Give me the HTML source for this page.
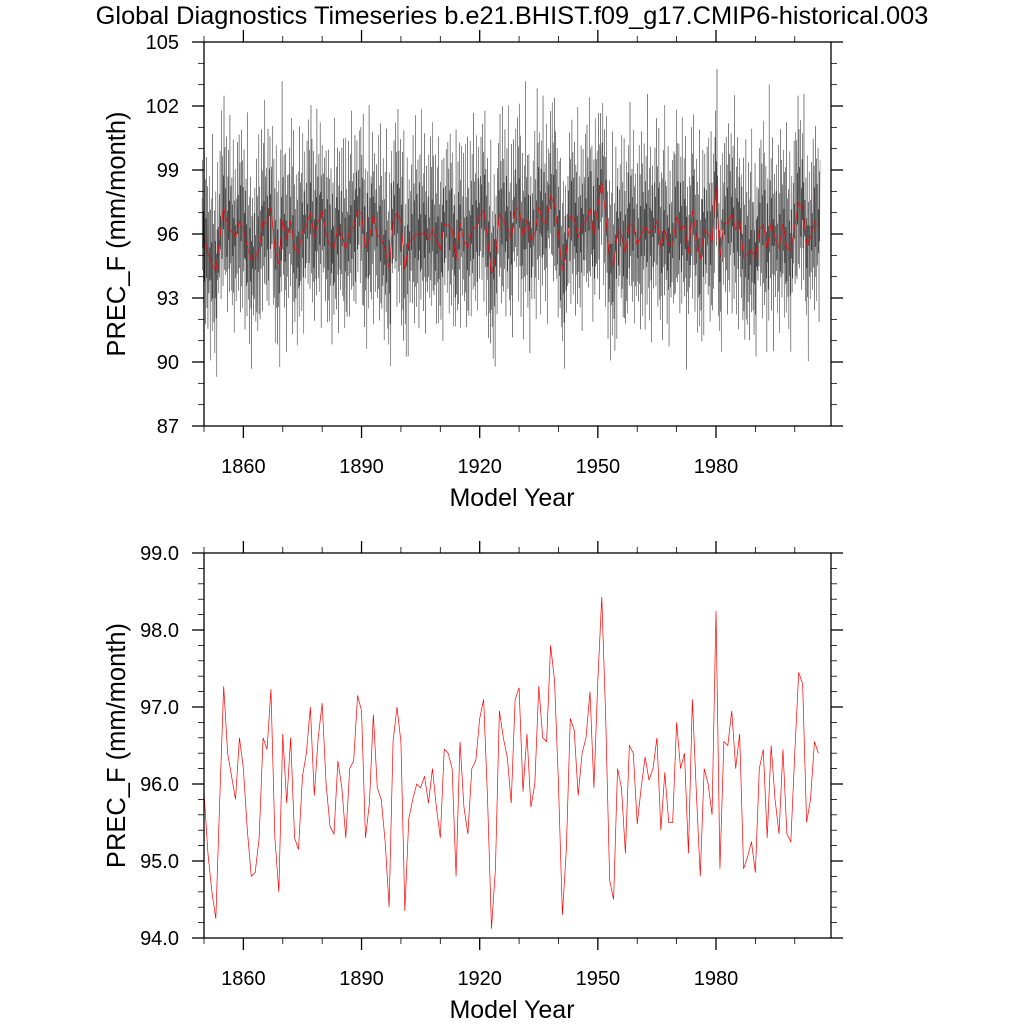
<!DOCTYPE html>
<html><head><meta charset="utf-8"><style>
html,body{margin:0;padding:0;background:#fff}
svg{display:block;font-family:"Liberation Sans",sans-serif}
</style></head><body>
<svg id="chart" width="1024" height="1024" viewBox="0 0 1024 1024" xmlns="http://www.w3.org/2000/svg">
<text x="512" y="24" font-size="25.4" text-anchor="middle">Global Diagnostics Timeseries b.e21.BHIST.f09_g17.CMIP6-historical.003</text>
<g id="top"></g>
<g id="bot"></g>
</svg>
<script>
const startYear = 1850;
const annualValues = [
95.9,95.1,94.6,94.25,95.8,97.27,96.4,96.1,95.8,96.6,96.2,95.4,94.8,94.85,95.3,96.6,96.45,97.23,95.3,94.6,96.65,95.75,96.6,95.3,95.15,96.1,96.4,97.0,95.85,96.6,97.05,96.0,95.45,95.35,96.3,95.95,95.3,96.2,96.3,97.15,96.95,
95.3,95.75,96.9,95.95,95.8,95.25,94.4,96.55,97.0,96.55,94.35,95.55,95.8,96.0,95.95,96.1,95.75,96.2,95.7,95.3,96.45,96.4,96.2,94.8,96.55,95.7,95.35,96.2,96.3,96.85,97.1,95.8,94.12,94.9,96.95,96.6,96.35,95.75,97.1,
97.25,95.9,96.65,95.7,96.0,97.27,96.6,96.55,97.8,97.35,96.0,94.3,95.15,96.85,96.7,95.85,96.4,96.6,97.2,95.95,97.35,98.43,96.85,94.75,94.5,96.2,95.95,95.1,96.5,96.4,95.48,95.95,96.35,96.05,96.2,96.6,95.4,96.15,95.5,95.5,96.8,
96.2,96.4,95.1,97.1,95.9,94.8,96.2,96.0,95.6,98.25,94.9,96.55,96.5,96.95,96.2,96.65,94.9,95.05,95.25,94.85,96.2,96.45,95.3,96.5,95.8,95.35,96.45,95.35,95.25,96.4,97.45,97.3,95.5,95.8,96.55,96.4];
const monthlyAnomaly = [
2.1,-1.8,3.9,-0.6,1.2,-3.1,0.4,4.6,-2.4,-0.9,2.8,-4.2,1.6,-1.1,5.3,-2.9,0.2,3.3,-3.6,1.9,-0.3,-2.2,4.1,-1.4,0.8,-4.6,2.5,-0.7,3.6,-2.0,1.1,-3.3,6.2,-1.6,0.5,2.2,-2.7,-0.2,3.0,-3.9,1.4,-1.2,4.4,-2.5,0.9,-5.2,2.0,-0.4,3.4,-1.9,0.6,-2.8,1.7];
const topYTicks = ["87","90","93","96","99","102","105"];
const botYTicks = ["94.0","95.0","96.0","97.0","98.0","99.0"];
const xTickLabels = ["1860","1890","1920","1950","1980"];

const NS="http://www.w3.org/2000/svg";
function mk(tag, parent, attrs){const e=document.createElementNS(NS,tag);for(const k in attrs)e.setAttribute(k,attrs[k]);parent.appendChild(e);return e;}
const X0=204,X1=831,xMin=1850,xMax=2009.2;
const xs=y=>X0+(y-xMin)/(xMax-xMin)*(X1-X0);

function panel(g, T, B, yMin, yMax, yLabels, minorStep){
  const ys=v=>B-(v-yMin)/(yMax-yMin)*(B-T);
  for(let yr=1850; yr<=2010; yr+=10){
    const x=xs(yr); if(x<X0-0.5||x>X1+0.5) continue;
    const major=(yr-1860)%30===0; const L=major?12:6;
    const t1=mk('line',g,{x1:x,x2:x,y1:B,y2:B+L,stroke:'#000','stroke-width':major?1.3:0.8});
    
    
    const t2=mk('line',g,{x1:x,x2:x,y1:T,y2:T-L,stroke:'#000','stroke-width':major?1.3:0.8});
    
    
  }
  xTickLabels.forEach(s=>{
    const t=mk('text',g,{x:xs(+s),y:B+47,'font-size':20,'text-anchor':'middle'});t.textContent=s;
    
    
  });
  const nMin=Math.round((yMax-yMin)/minorStep);
  const majorEvery=Math.round((+yLabels[1]-+yLabels[0])/minorStep);
  for(let i=0;i<=nMin;i++){
    const y=ys(yMin+i*minorStep); const major=i%majorEvery===0; const L=major?12:6;
    const a=mk('line',g,{x1:X0,x2:X0-L,y1:y,y2:y,stroke:'#000','stroke-width':major?1.3:0.8});
    
    
    const b=mk('line',g,{x1:X1,x2:X1+L,y1:y,y2:y,stroke:'#000','stroke-width':major?1.3:0.8});
    
    
  }
  yLabels.forEach(s=>{
    const t=mk('text',g,{x:X0-25,y:ys(+s)+7,'font-size':20,'text-anchor':'end'});t.textContent=s;
    
    
  });
  const xt=mk('text',g,{x:512,y:B+80,'font-size':25,'text-anchor':'middle'});xt.textContent='Model Year';
  
  
  const cy=(T+B)/2;
  const yt=mk('text',g,{x:125,y:cy,'font-size':25.5,'text-anchor':'middle',transform:`rotate(-90 125 ${cy})`});yt.textContent='PREC_F (mm/month)';
  
  
  return ys;
}
function frame(g,T,B){
  const r=mk('rect',g,{x:X0,y:T,width:X1-X0,height:B-T,fill:'none',stroke:'#000','stroke-width':1.3});
  
  
}

const gt=document.getElementById('top');
const ysT=panel(gt,42,426,87,105,topYTicks,1);
let d='';
for(let i=0;i<annualValues.length;i++){
  for(let m=0;m<12;m++){
    const k=i*12+m;
    const v=annualValues[i]+monthlyAnomaly[k%monthlyAnomaly.length]*(0.85+0.2*((k%7)/6));
    d+=(k?'L':'M')+xs(startYear+i+m/12-0.5).toFixed(2)+' '+ysT(v).toFixed(2);
  }
}
const ml=mk('path',gt,{d:d,fill:'none',stroke:'#000','stroke-width':0.35,'stroke-opacity':0.85});


let dr='';
annualValues.forEach((v,i)=>{dr+=(i?'L':'M')+xs(startYear+i).toFixed(2)+' '+ysT(v).toFixed(2);});
const rl=mk('path',gt,{d:dr,fill:'none',stroke:'#f00','stroke-width':0.7});


frame(gt,42,426);

const gb=document.getElementById('bot');
const ysB=panel(gb,553,938,94,99,botYTicks,0.2);
let db='';
annualValues.forEach((v,i)=>{db+=(i?'L':'M')+xs(startYear+i).toFixed(2)+' '+ysB(v).toFixed(2);});
const bl=mk('path',gb,{d:db,fill:'none',stroke:'#f00','stroke-width':0.7});


frame(gb,553,938);
</script>
</body></html>
